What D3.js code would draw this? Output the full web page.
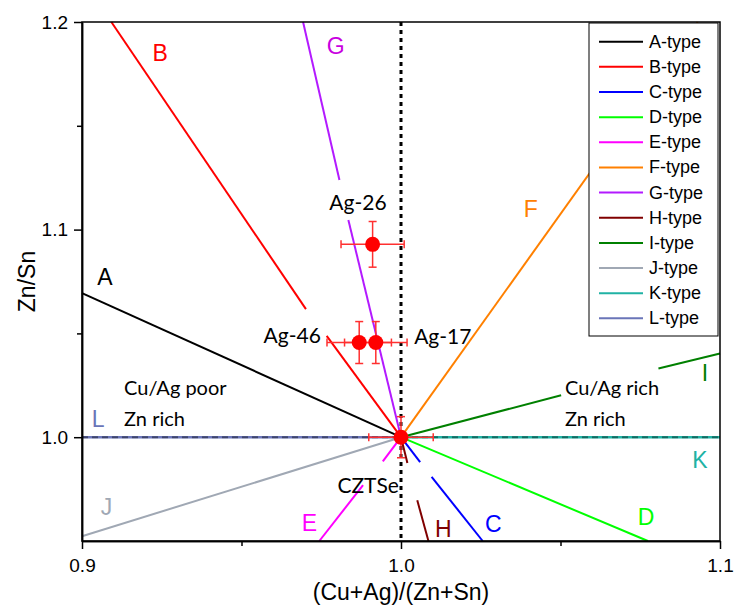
<!DOCTYPE html>
<html>
<head>
<meta charset="utf-8">
<script src="https://cdn.jsdelivr.net/npm/d3@7"></script>
<style>
  body { margin: 0; background: #fff; }
  svg text { font-family: "Liberation Sans", Arial, sans-serif; }
  .cal { font-family: Lato, "Open Sans", sans-serif; }
</style>
</head>
<body>
<div id="chart"></div>
<script>
// defect line types
const typeNames = ["A", "B", "C", "D", "E", "F", "G", "H", "I", "J", "K", "L"];
const typeColors = ["#000000", "#ff0000", "#0000ff", "#00ff00", "#ff00ff", "#ff8000",
  "#b31aff", "#800000", "#008000", "#a0a8b4", "#20b2a4", "#6a75b8"];
// segments per type [x1, y1, x2, y2] (gaps left for labels)
const typeSegments = [
  [[0.9, 1.0694, 1.0, 1.0]],
  [[0.9092, 1.2, 0.9702, 1.0617], [0.9767, 1.0488, 1.0, 1.0]],
  [[1.0, 1.0, 1.006, 0.988], [1.0096, 0.9809, 1.0256, 0.95]],
  [[1.0, 1.0, 1.0774, 0.95]],
  [[1.0, 1.0, 0.9943, 0.9884], [0.9881, 0.9769, 0.9744, 0.95]],
  [[1.0, 1.0, 1.093, 1.2]],
  [[0.9693, 1.2, 0.9807, 1.1239], [0.9835, 1.1046, 1.0, 1.0]],
  [[1.0, 1.0, 1.002, 0.9876], [1.0051, 0.9696, 1.0086, 0.95]],
  [[1.0, 1.0, 1.0502, 1.0202], [1.0807, 1.0331, 1.1, 1.0403]],
  [[0.9, 0.9523, 1.0, 1.0]],
  [[1.0, 1.0, 1.1, 1.0]],
  [[0.9, 1.0, 1.0, 1.0]]
];
// letter labels on the lines
const letterX = [0.9072, 0.9245, 1.0289, 1.0768, 0.9713, 1.0407, 0.9795, 1.0133, 1.0953, 0.9077, 1.0937, 0.9051];
const letterY = [1.0770, 1.1852, 0.9581, 0.9616, 0.9587, 1.1097, 1.1882, 0.9560, 1.0307, 0.9664, 0.9889, 1.0090];

// samples
const sampleNames = ["CZTSe", "Ag-26", "Ag-46", "Ag-17"];
const sampleX = [1.0, 0.9911, 0.9869, 0.9921];
const sampleY = [1.0, 1.0929, 1.0456, 1.0456];
const sampleXErr = [0.0101, 0.0099, 0.0101, 0.0098];
const sampleYErr = [0.0099, 0.011, 0.0101, 0.0101];
const sampleLabelX = [0.9897, 0.9865, 0.9659, 1.0131];
const sampleLabelY = [0.9774, 1.1133, 1.0497, 1.0492];

// region notes
const noteText = ["Cu/Ag poor", "Zn rich", "Cu/Ag rich", "Zn rich"];
const noteX = [0.9132, 0.9132, 1.0514, 1.0514];
const noteY = [1.0240, 1.0092, 1.0243, 1.0091];

const xTicks = [0.9, 1.0, 1.1];
const xMinor = [0.95, 1.05];
const yTicks = [1.0, 1.1, 1.2];
const yMinor = [1.05, 1.15];

const width = 734, height = 608;
const margin = { top: 22, right: 14, bottom: 67, left: 82 };

const svg = d3.select("#chart").append("svg")
  .attr("width", width).attr("height", height);

const x = d3.scaleLinear().domain([0.9, 1.1]).range([margin.left, width - margin.right]);
const y = d3.scaleLinear().domain([0.95, 1.2]).range([height - margin.bottom, margin.top]);

// reference line at stoichiometric Cu/(Zn+Sn)
svg.append("line")
  .attr("x1", x(1.0)).attr("x2", x(1.0))
  .attr("y1", y(1.2)).attr("y2", y(0.95))
  .attr("stroke", "#000").attr("stroke-width", 3)
  .attr("stroke-dasharray", "4,4");

// type lines
typeSegments.forEach(function(segs, i) {
  segs.forEach(function(s) {
    svg.append("line")
      .attr("x1", x(s[0])).attr("y1", y(s[1]))
      .attr("x2", x(s[2])).attr("y2", y(s[3]))
      .attr("stroke", typeColors[i])
      .attr("stroke-width", (i === 10 || i === 11) ? 2.5 : 2);
  });
});

// dashed overlay on the Zn/Sn = 1 line
svg.append("line")
  .attr("x1", x(0.9)).attr("x2", x(1.1))
  .attr("y1", y(1.0)).attr("y2", y(1.0))
  .attr("stroke", "#000").attr("stroke-opacity", 0.4)
  .attr("stroke-width", 2).attr("stroke-dasharray", "6,4");

// letter labels
svg.selectAll(".letter")
  .data(typeNames)
  .enter().append("text")
  .attr("class", "letter")
  .attr("x", (d, i) => x(letterX[i]))
  .attr("y", (d, i) => y(letterY[i]))
  .attr("text-anchor", "middle")
  .attr("dominant-baseline", "central")
  .style("font-size", "23px")
  .style("fill", (d, i) => i === 6 ? "#c800e0" : typeColors[i])
  .text(d => d);

// error bars
const cap = 4;
const errColor = "#ff3030";
sampleNames.forEach(function(name, i) {
  const cx = x(sampleX[i]), cy = y(sampleY[i]);
  const xl = x(sampleX[i] - sampleXErr[i]), xr = x(sampleX[i] + sampleXErr[i]);
  const yt = y(sampleY[i] + sampleYErr[i]), yb = y(sampleY[i] - sampleYErr[i]);
  const g = svg.append("g").attr("stroke", errColor).attr("stroke-width", 1.5);
  g.append("line").attr("x1", xl).attr("x2", xr).attr("y1", cy).attr("y2", cy);
  g.append("line").attr("x1", cx).attr("x2", cx).attr("y1", yt).attr("y2", yb);
  g.append("line").attr("x1", xl).attr("x2", xl).attr("y1", cy - cap).attr("y2", cy + cap);
  g.append("line").attr("x1", xr).attr("x2", xr).attr("y1", cy - cap).attr("y2", cy + cap);
  g.append("line").attr("x1", cx - cap).attr("x2", cx + cap).attr("y1", yt).attr("y2", yt);
  g.append("line").attr("x1", cx - cap).attr("x2", cx + cap).attr("y1", yb).attr("y2", yb);
});

svg.selectAll(".pt")
  .data(sampleNames)
  .enter().append("circle")
  .attr("class", "pt")
  .attr("cx", (d, i) => x(sampleX[i]))
  .attr("cy", (d, i) => y(sampleY[i]))
  .attr("r", 7.5)
  .attr("fill", "#ff0000");

svg.selectAll(".slabel")
  .data(sampleNames)
  .enter().append("text")
  .attr("class", "slabel cal")
  .attr("x", (d, i) => x(sampleLabelX[i]))
  .attr("y", (d, i) => y(sampleLabelY[i]))
  .attr("text-anchor", "middle")
  .attr("dominant-baseline", "central")
  .style("font-size", "21px")
  .style("fill", "#000")
  .text(d => d);

svg.selectAll(".note")
  .data(noteText)
  .enter().append("text")
  .attr("class", "note cal")
  .attr("x", (d, i) => x(noteX[i]))
  .attr("y", (d, i) => y(noteY[i]))
  .attr("dominant-baseline", "central")
  .style("font-size", "20px")
  .text(d => d);

// frame
svg.append("rect")
  .attr("x", x(0.9)).attr("y", y(1.2))
  .attr("width", x(1.1) - x(0.9)).attr("height", y(0.95) - y(1.2))
  .attr("fill", "none").attr("stroke", "#000").attr("stroke-width", 1.5);

// axes
const xAxis = svg.append("g")
  .attr("transform", `translate(0,${y(0.95)})`)
  .call(d3.axisBottom(x).tickValues(xTicks).tickFormat(d3.format(".1f")).tickSize(8).tickSizeOuter(0));
svg.append("g")
  .attr("transform", `translate(0,${y(0.95)})`)
  .call(d3.axisBottom(x).tickValues(xMinor).tickFormat("").tickSize(5).tickSizeOuter(0));
const yAxis = svg.append("g")
  .attr("transform", `translate(${x(0.9)},0)`)
  .call(d3.axisLeft(y).tickValues(yTicks).tickFormat(d3.format(".1f")).tickSize(8).tickSizeOuter(0));
svg.append("g")
  .attr("transform", `translate(${x(0.9)},0)`)
  .call(d3.axisLeft(y).tickValues(yMinor).tickFormat("").tickSize(5).tickSizeOuter(0));

svg.selectAll(".domain").attr("stroke-width", 1.5);
svg.selectAll(".tick line").attr("stroke-width", 1.5);
svg.selectAll(".tick text")
  .style("font-family", "'Liberation Sans', Arial, sans-serif")
  .style("font-size", "19px")
  .style("fill", "#000");
xAxis.selectAll(".tick text").attr("dy", "1.05em");
yAxis.selectAll(".tick text").attr("x", -14);

svg.append("text")
  .attr("x", x(1.0)).attr("y", 600)
  .attr("text-anchor", "middle")
  .style("font-size", "23px")
  .text("(Cu+Ag)/(Zn+Sn)");

svg.append("text")
  .attr("transform", `translate(35,${y(1.075)}) rotate(-90)`)
  .attr("text-anchor", "middle")
  .style("font-size", "23px")
  .text("Zn/Sn");

// legend
const legendX = 589, legendY = 23, legendW = 129, legendH = 313;
const legend = svg.append("g");
legend.append("rect")
  .attr("x", legendX).attr("y", legendY)
  .attr("width", legendW).attr("height", legendH)
  .attr("fill", "#fff").attr("stroke", "#000").attr("stroke-width", 1);

typeNames.forEach(function(name, i) {
  const ry = 41.7 + i * 25.15;
  legend.append("line")
    .attr("x1", 599).attr("x2", 643)
    .attr("y1", ry).attr("y2", ry)
    .attr("stroke", typeColors[i]).attr("stroke-width", 2);
  legend.append("text")
    .attr("x", 649).attr("y", ry)
    .attr("dominant-baseline", "central")
    .style("font-size", "18px")
    .text(name + "-type");
});
</script>
</body>
</html>
